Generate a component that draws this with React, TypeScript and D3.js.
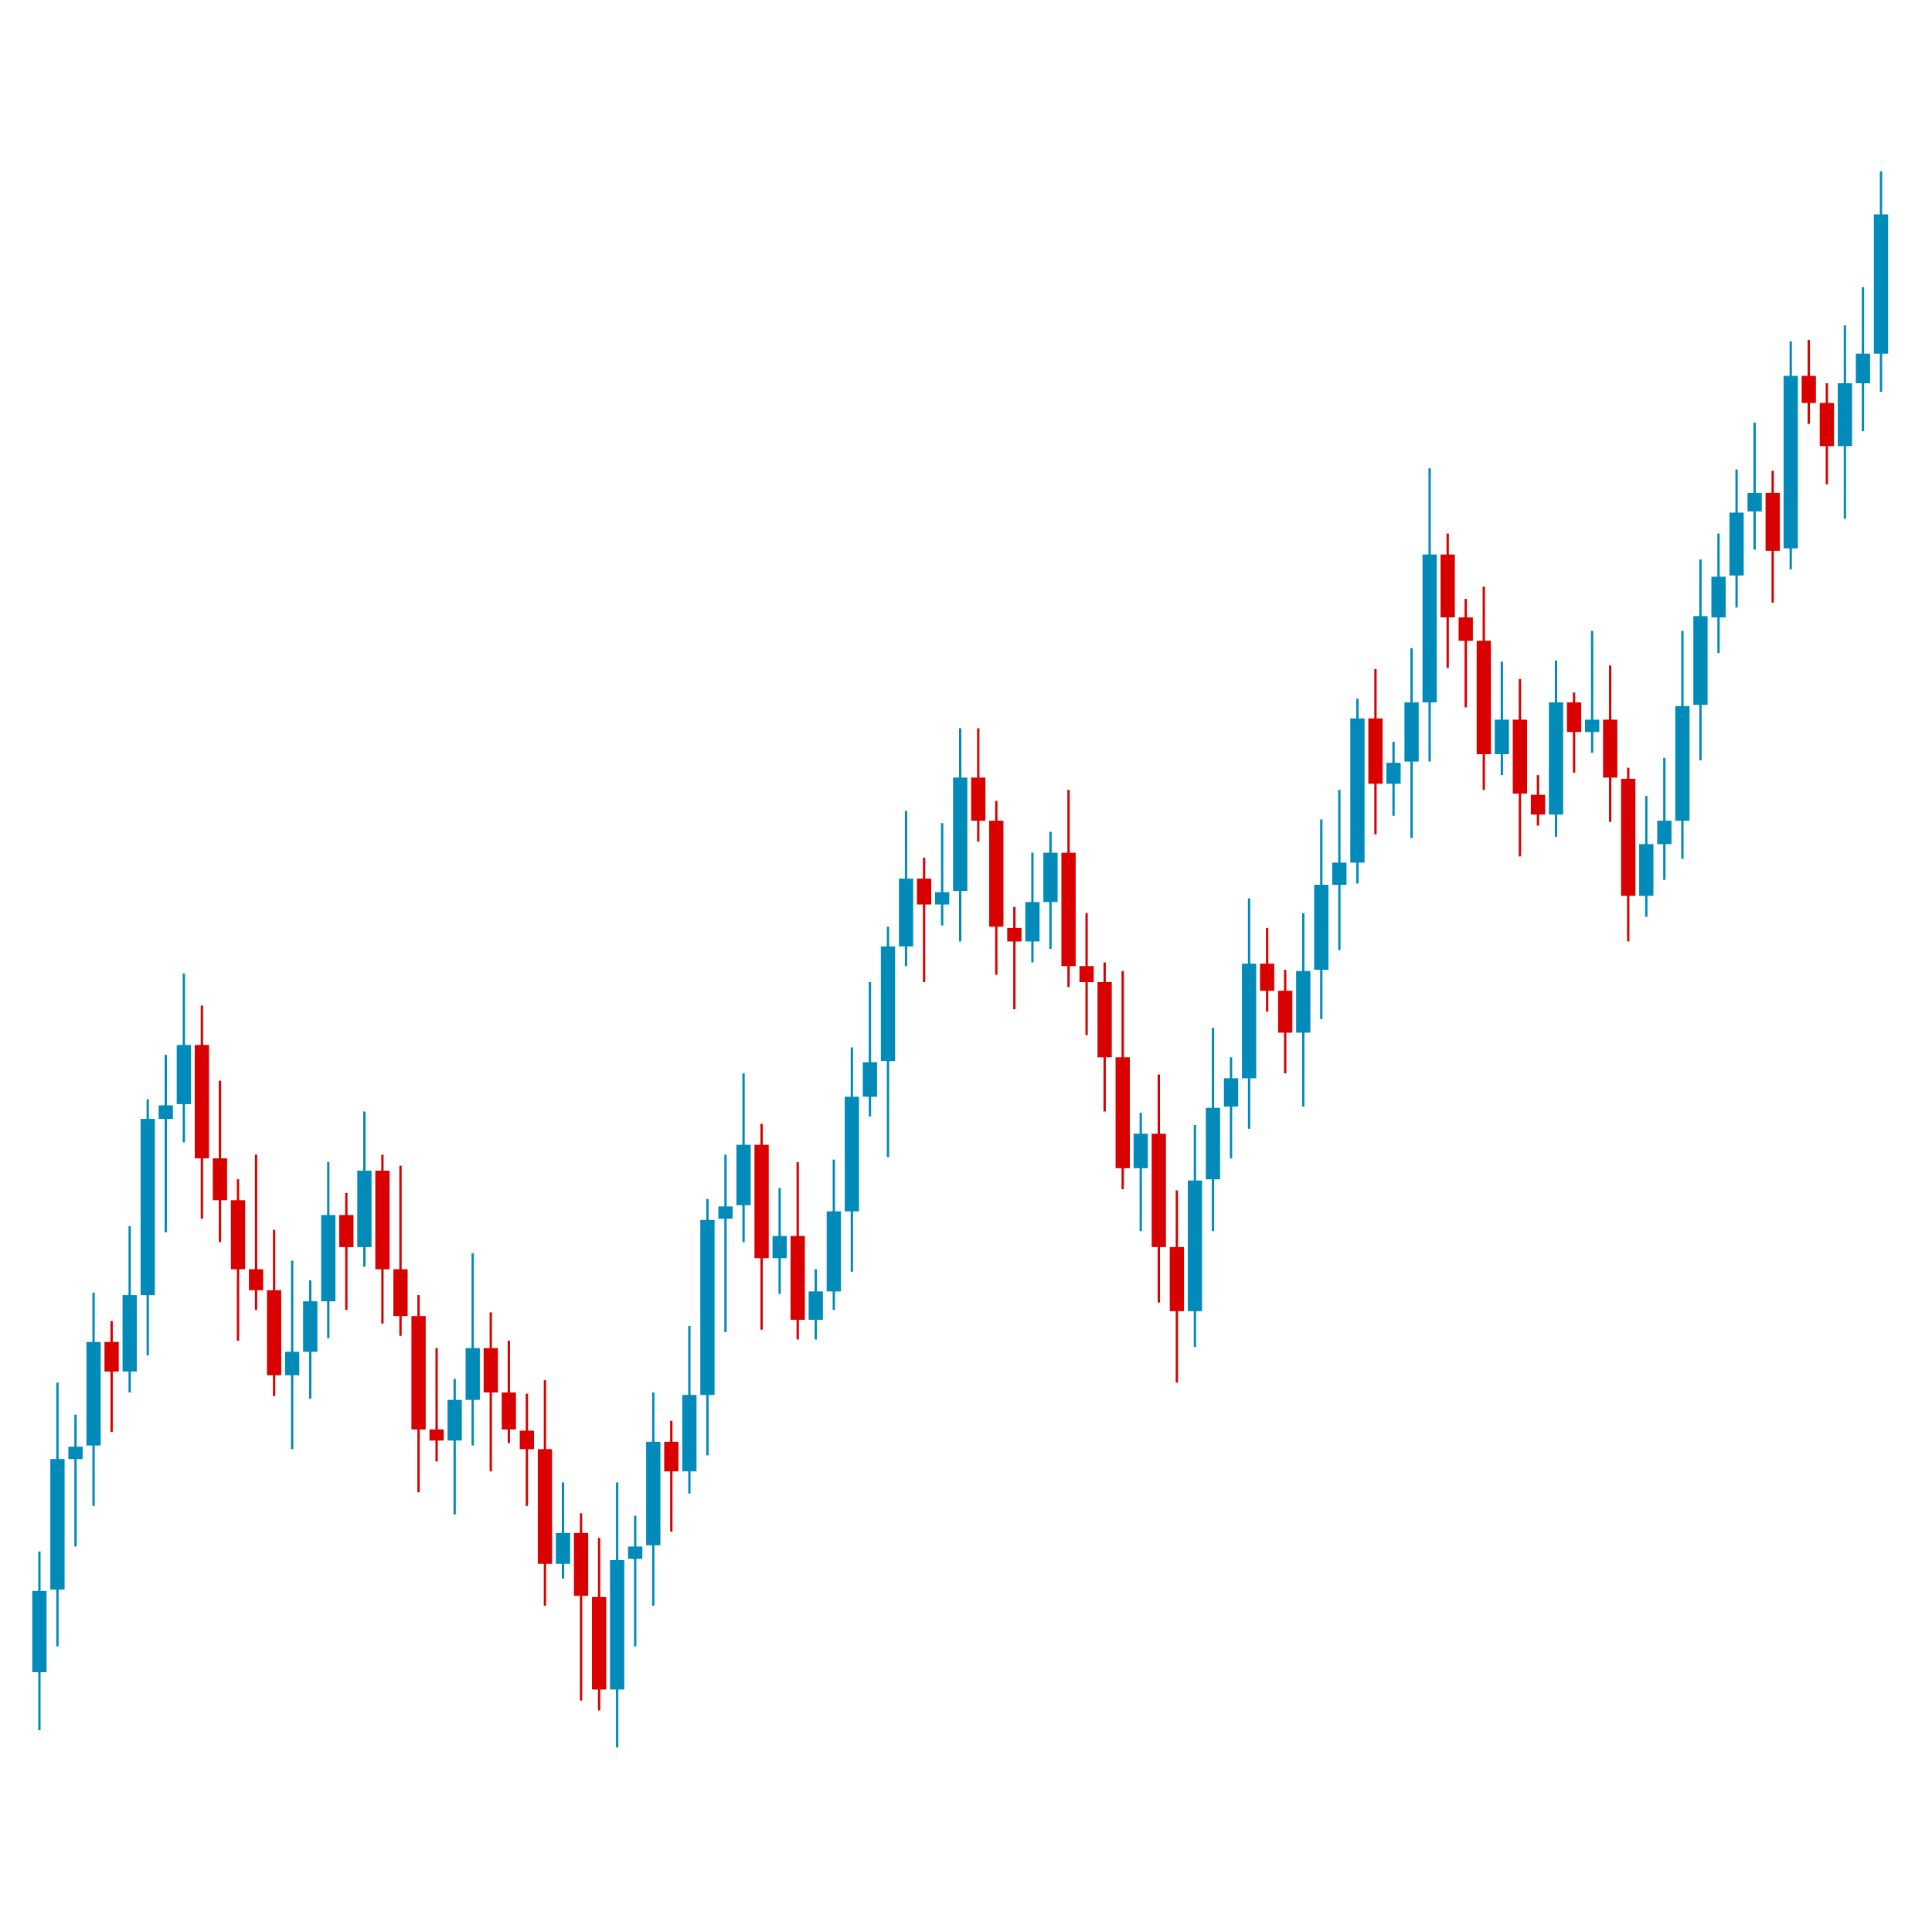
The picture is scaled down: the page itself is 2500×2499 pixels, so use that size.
import React, { useRef, useEffect } from 'react';
import * as d3 from 'd3';

// OHLC values (arbitrary price units)
const opens = [
  210, 277, 383, 394, 478, 454, 516, 659, 671, 719, 627, 593, 537, 520, 451, 470, 511, 581, 555, 617,
  537, 499, 407, 398, 431, 473, 437, 406, 391, 298, 323, 271, 196, 302, 313, 397, 373, 435, 578, 589,
  638, 546, 564, 496, 519, 584, 677, 706, 799, 854, 833, 844, 936, 901, 814, 803, 835, 875, 783, 770,
  709, 619, 647, 555, 503, 610, 669, 692, 785, 763, 729, 780, 849, 867, 984, 931, 949, 997, 1117, 1066,
  1047, 955, 983, 922, 906, 997, 973, 983, 935, 840, 882, 901, 995, 1066, 1100, 1152, 1167, 1122, 1262, 1240,
  1205, 1256, 1280,
];
const closes = [
  276, 383, 393, 478, 454, 516, 659, 670, 719, 627, 593, 537, 520, 451, 470, 511, 581, 555, 617, 537,
  499, 407, 398, 431, 473, 437, 407, 391, 298, 323, 272, 196, 301, 312, 397, 373, 435, 577, 588, 638,
  546, 564, 496, 519, 584, 677, 705, 799, 854, 833, 843, 936, 901, 815, 803, 835, 875, 783, 770, 709,
  619, 647, 555, 503, 609, 668, 692, 785, 763, 729, 779, 849, 867, 984, 931, 948, 997, 1117, 1066, 1047,
  955, 983, 923, 906, 997, 973, 983, 936, 840, 882, 901, 994, 1067, 1099, 1151, 1167, 1120, 1262, 1240, 1205,
  1256, 1280, 1393,
];
const highs = [
  308, 445, 419, 518, 495, 572, 675, 711, 777, 751, 690, 610, 630, 569, 544, 528, 624, 599, 665, 630,
  621, 516, 473, 448, 550, 502, 479, 436, 447, 364, 339, 319, 364, 337, 437, 414, 491, 594, 630, 696,
  655, 603, 624, 537, 626, 717, 770, 815, 909, 871, 899, 976, 976, 917, 831, 875, 892, 926, 826, 786,
  779, 664, 695, 601, 654, 733, 709, 838, 814, 780, 826, 902, 926, 1000, 1024, 965, 1041, 1187, 1134, 1081,
  1091, 1030, 1016, 938, 1031, 1005, 1055, 1027, 944, 921, 952, 1055, 1113, 1134, 1186, 1224, 1185, 1290, 1291, 1256,
  1303, 1334, 1428,
];
const lows = [
  163, 231, 312, 345, 405, 437, 467, 567, 640, 578, 559, 479, 504, 434, 391, 432, 481, 504, 539, 493,
  483, 356, 381, 338, 394, 373, 396, 345, 264, 286, 187, 179, 149, 231, 264, 324, 355, 386, 486, 559,
  488, 517, 480, 480, 504, 535, 661, 628, 783, 770, 816, 803, 884, 776, 748, 786, 797, 766, 727, 665,
  602, 568, 510, 445, 474, 568, 627, 651, 746, 696, 669, 740, 796, 850, 890, 905, 887, 949, 1025, 993,
  926, 938, 872, 897, 888, 940, 956, 900, 803, 823, 853, 870, 950, 1037, 1074, 1121, 1078, 1105, 1223, 1174,
  1146, 1217, 1249,
];

const UP = '#028bb9';
const DOWN = '#d90000';

const WIDTH = 2500;
const HEIGHT = 2499;

export default function App() {
  const ref = useRef<SVGSVGElement | null>(null);

  useEffect(() => {
    if (!ref.current) return;
    const svg = d3.select(ref.current);
    svg.selectAll('*').remove();

    const data = opens.map((o, i) => ({
      i,
      open: o,
      close: closes[i],
      high: highs[i],
      low: lows[i],
    }));

    const x = d3.scaleBand<number>()
      .domain(data.map(d => d.i))
      .range([39.3, 2445.7])
      .paddingInner(0.21)
      .paddingOuter(0.105);

    const y = d3.scaleLinear()
      .domain([0, 1567])
      .range([HEIGHT, 0]);

    const g = svg.append('g');

    const candle = g.selectAll('g.candle')
      .data(data)
      .enter().append('g')
      .attr('class', 'candle')
      .attr('fill', d => (d.close >= d.open ? UP : DOWN));

    // wicks
    candle.append('rect')
      .attr('x', d => (x(d.i) || 0) + x.bandwidth() / 2 - 1.5)
      .attr('width', 3)
      .attr('y', d => y(d.high))
      .attr('height', d => y(d.low) - y(d.high));

    // bodies
    candle.append('rect')
      .attr('x', d => x(d.i) || 0)
      .attr('width', x.bandwidth())
      .attr('y', d => y(Math.max(d.open, d.close)))
      .attr('height', d => Math.max(2, Math.abs(y(d.open) - y(d.close))));
  }, []);

  return (
    <svg
      ref={ref}
      width={WIDTH}
      height={HEIGHT}
      style={{ position: 'absolute', top: 0, left: 0, background: '#fff', display: 'block' }}
    />
  );
}
